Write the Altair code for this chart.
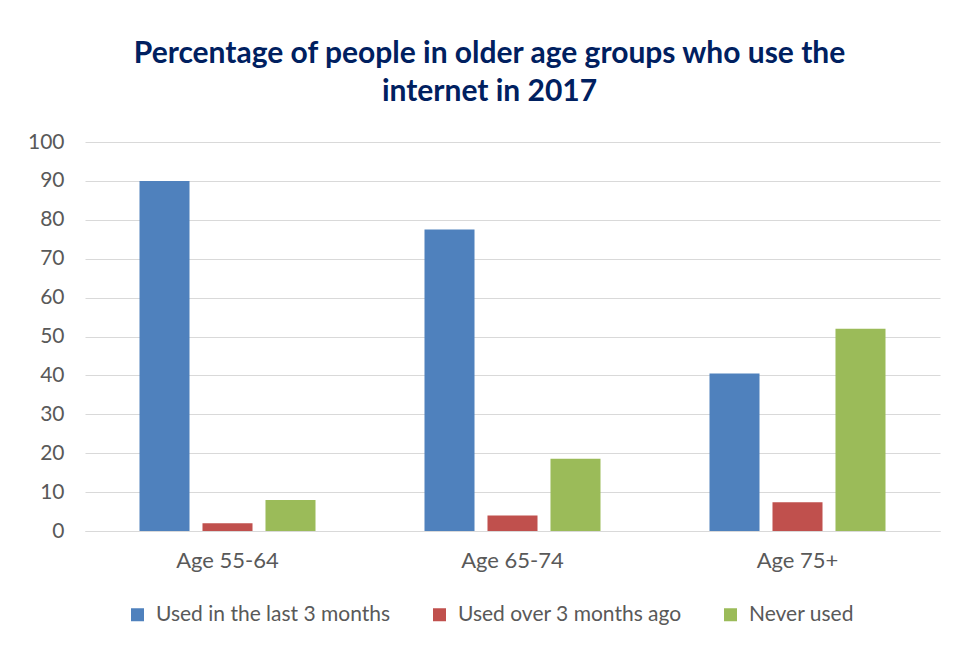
import altair as alt
import pandas as pd

groups = ["Age 55-64", "Age 65-74", "Age 75+"]
series = ["Used in the last 3 months", "Used over 3 months ago", "Never used"]
used_recent = [90, 77.5, 40.5]
used_over = [2, 4, 7.4]
never_used = [8, 18.6, 52]
colors = ["#4F81BD", "#C0504D", "#9BBB59"]

rows = []
for i, g in enumerate(groups):
    for s, vals in zip(series, [used_recent, used_over, never_used]):
        rows.append({"group": g, "series": s, "value": vals[i]})
df = pd.DataFrame(rows)

font = "Lato"

chart = alt.Chart(df).mark_bar().encode(
    x=alt.X("group:N", sort=groups, title=None,
            scale=alt.Scale(paddingInner=0, paddingOuter=0),
            axis=alt.Axis(labelAngle=0, labelFontSize=22, labelColor="#595959",
                          labelFont=font, labelPadding=19, ticks=False,
                          domainColor="#d9d9d9", domainWidth=1)),
    xOffset=alt.XOffset("series:N", sort=series,
                        scale=alt.Scale(paddingInner=0.206, paddingOuter=0.865)),
    y=alt.Y("value:Q", title=None,
            scale=alt.Scale(domain=[0, 100], nice=False),
            axis=alt.Axis(values=list(range(0, 101, 10)), labelFontSize=21,
                          labelColor="#595959", labelFont=font, labelPadding=21,
                          ticks=False, domain=False, gridColor="#d9d9d9", gridWidth=1)),
    color=alt.Color("series:N", sort=series, title=None,
                    scale=alt.Scale(domain=series, range=colors),
                    legend=alt.Legend(orient="none", direction="horizontal",
                                      legendX=42, legendY=462,
                                      symbolType="square", symbolSize=169,
                                      symbolStrokeWidth=0, labelLimit=0,
                                      labelFontSize=21, labelFont=font,
                                      labelColor="#595959", columnPadding=38,
                                      labelOffset=8)),
).properties(
    width=855,
    height=389,
    title=alt.Title(
        ["Percentage of people in older age groups who use the", "internet in 2017"],
        fontSize=30, font=font, fontWeight="bold", color="#002060",
        anchor="middle", lineHeight=38, offset=24, dx=-23,
    ),
    padding={"left": 77, "top": 134, "right": 10, "bottom": 115},
    autosize=alt.AutoSizeParams(type="none"),
    background="white",
).configure_view(stroke=None)

chart.save("out.html", embed_options={"renderer": "svg", "actions": False})
